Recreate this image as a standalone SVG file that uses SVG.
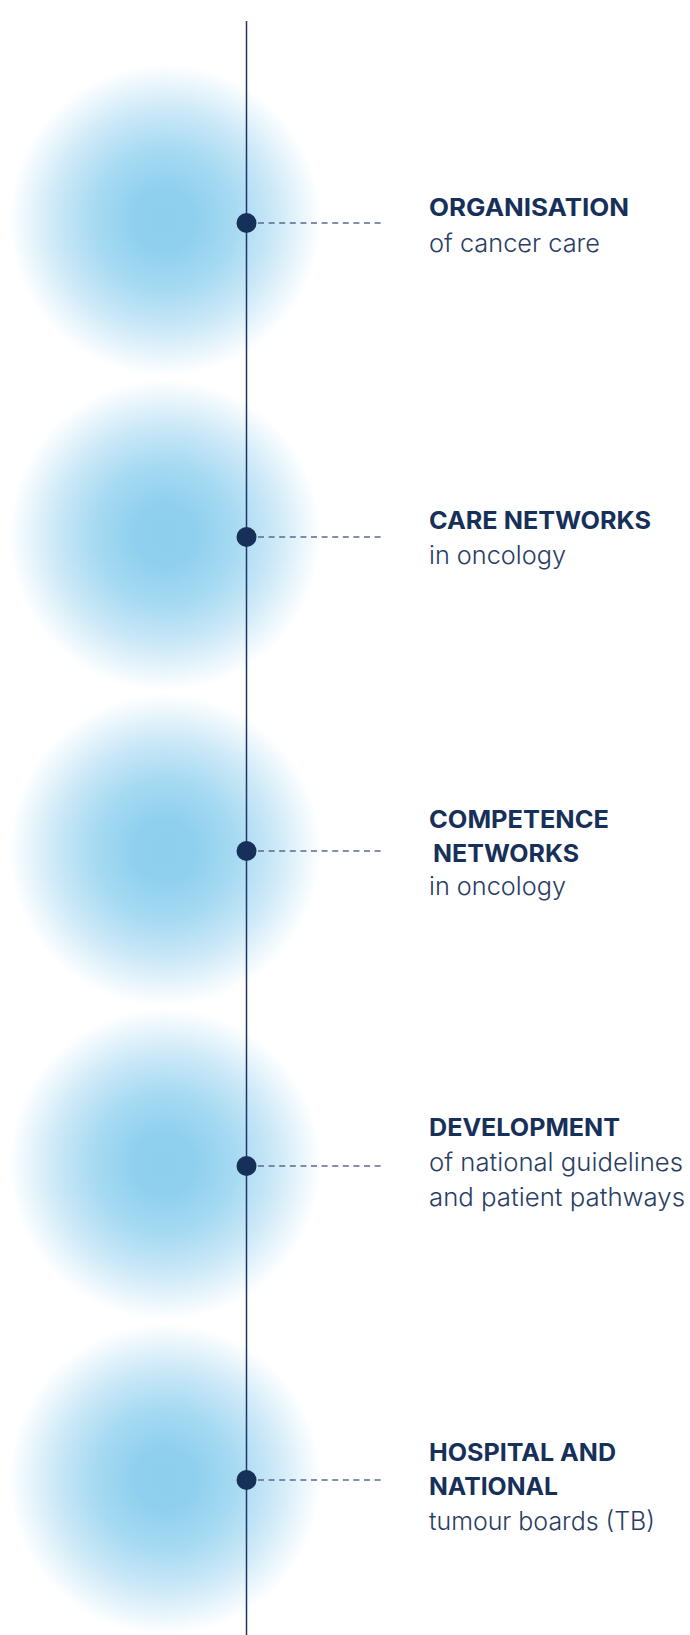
<svg xmlns="http://www.w3.org/2000/svg" width="690" height="1635" viewBox="0 0 690 1635">
<defs>
<radialGradient id="glow" cx="0.5" cy="0.5" r="0.5">
<stop offset="0" stop-color="#8ecfee"/>
<stop offset="0.2" stop-color="#90d0ee"/>
<stop offset="0.45" stop-color="#a6daf2"/>
<stop offset="0.7" stop-color="#cbe8f7"/>
<stop offset="0.88" stop-color="#eaf6fc"/>
<stop offset="1" stop-color="#ffffff"/>
</radialGradient>
<style>
.blob{fill:url(#glow)}
.spine{stroke:#1e3566;stroke-width:1.5;fill:none}
.dash{stroke:#5b6a8c;stroke-width:1.5;stroke-dasharray:6 4.6;fill:none}
.dot{fill:#17305a}
.t{font-family:Inter,"Liberation Sans",sans-serif;font-weight:700;font-size:24px;fill:#17305a}
.s{font-family:Inter,"Liberation Sans",sans-serif;font-weight:300;font-size:25px;fill:#2a3d63}
</style>
</defs>
<rect width="690" height="1635" fill="#ffffff"/>
<g id="glows">
<circle class="blob" cx="165" cy="220" r="156"/>
<circle class="blob" cx="165" cy="535" r="156"/>
<circle class="blob" cx="165" cy="850" r="156"/>
<circle class="blob" cx="165" cy="1164" r="156"/>
<circle class="blob" cx="165" cy="1479" r="156"/>
</g>
<g id="connectors">
<line class="spine" x1="246.5" y1="21" x2="246.5" y2="1635"/>
<line class="dash" x1="258" y1="223" x2="384" y2="223"/>
<line class="dash" x1="258" y1="537" x2="384" y2="537"/>
<line class="dash" x1="258" y1="851" x2="384" y2="851"/>
<line class="dash" x1="258" y1="1166" x2="384" y2="1166"/>
<line class="dash" x1="258" y1="1480" x2="384" y2="1480"/>
</g>
<g id="node1">
<circle class="dot" cx="246.5" cy="223" r="10"/>
<text class="t" x="429" y="216" textLength="200" lengthAdjust="spacingAndGlyphs">ORGANISATION</text>
<text class="s" x="429" y="252" textLength="171" lengthAdjust="spacingAndGlyphs">of cancer care</text>
</g>
<g id="node2">
<circle class="dot" cx="246.5" cy="537" r="10"/>
<text class="t" x="429" y="529" textLength="222" lengthAdjust="spacingAndGlyphs">CARE NETWORKS</text>
<text class="s" x="429" y="564" textLength="137" lengthAdjust="spacingAndGlyphs">in oncology</text>
</g>
<g id="node3">
<circle class="dot" cx="246.5" cy="851" r="10"/>
<text class="t" x="429" y="828" textLength="180" lengthAdjust="spacingAndGlyphs">COMPETENCE</text>
<text class="t" x="433" y="862" textLength="146" lengthAdjust="spacingAndGlyphs">NETWORKS</text>
<text class="s" x="429" y="895" textLength="137" lengthAdjust="spacingAndGlyphs">in oncology</text>
</g>
<g id="node4">
<circle class="dot" cx="246.5" cy="1166" r="10"/>
<text class="t" x="429" y="1136" textLength="191" lengthAdjust="spacingAndGlyphs">DEVELOPMENT</text>
<text class="s" x="429" y="1171" textLength="254" lengthAdjust="spacingAndGlyphs">of national guidelines</text>
<text class="s" x="429" y="1206" textLength="256" lengthAdjust="spacingAndGlyphs">and patient pathways</text>
</g>
<g id="node5">
<circle class="dot" cx="246.5" cy="1480" r="10"/>
<text class="t" x="429" y="1461" textLength="187" lengthAdjust="spacingAndGlyphs">HOSPITAL AND</text>
<text class="t" x="429" y="1495" textLength="129" lengthAdjust="spacingAndGlyphs">NATIONAL</text>
<text class="s" x="429" y="1530" textLength="226" lengthAdjust="spacingAndGlyphs">tumour boards (TB)</text>
</g>
</svg>
